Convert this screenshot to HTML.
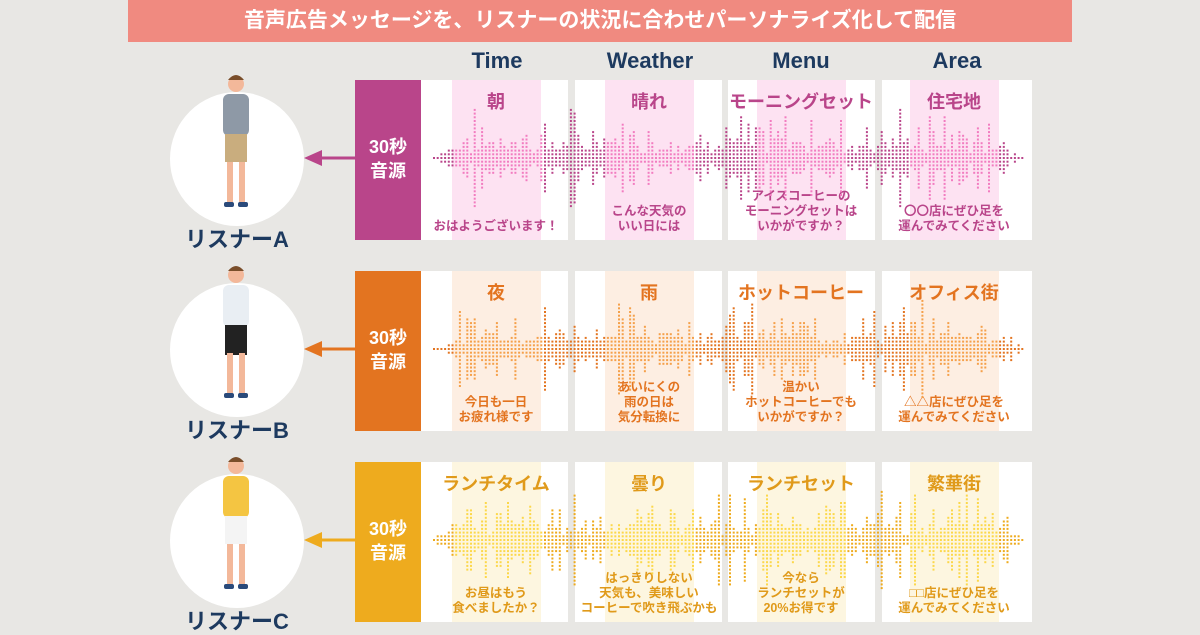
<!DOCTYPE html>
<html><head><meta charset="utf-8">
<style>
*{margin:0;padding:0;box-sizing:border-box}
body{width:1200px;height:630px;background:#e8e7e4;position:relative;overflow:hidden;font-family:"Liberation Sans","Noto Sans CJK JP",sans-serif;font-weight:bold}
.banner{position:absolute;left:128px;top:0;width:944px;height:42px;background:#f08a80;color:#fff;font-size:21px;text-align:center;line-height:42px}
.hd{position:absolute;top:48px;font-size:22px;color:#1d3a5f;text-align:center;width:150px}
.src{position:absolute;left:355px;width:66px;height:160px;color:#fff;font-size:18px;text-align:center;line-height:24px;padding-top:55px}
.pn{position:absolute;width:147px;height:160px;background:#fff}
.band{position:absolute;top:0;height:160px;width:89px}
.t{position:absolute;width:180px;text-align:center;font-size:18px}
.b{position:absolute;width:180px;text-align:center;font-size:12.5px;line-height:15px}
.circ{position:absolute;left:170px;width:134px;height:134px;border-radius:50%;background:#fff}
.lab{position:absolute;left:160px;width:154px;text-align:center;font-size:22px;line-height:26px;color:#1d3a5f}
svg{position:absolute;left:0;top:0}
</style></head><body>
<div class="banner">音声広告メッセージを、リスナーの状況に合わせパーソナライズ化して配信</div>
<div class="hd" style="left:422px">Time</div>
<div class="hd" style="left:575px">Weather</div>
<div class="hd" style="left:726px">Menu</div>
<div class="hd" style="left:882px">Area</div>
<div id="rows"></div>
<svg id="sv" width="1200" height="630"></svg>
<div id="labs"></div>
<script>
var rows=[
{top:80,c:'#b9458a',band:'#fde2f2',dl:'#f27cc0',tc:'#b9458a',name:'リスナーA',
 t:['朝','晴れ','モーニングセット','住宅地'],
 b:[['おはようございます！'],['こんな天気の','いい日には'],['アイスコーヒーの','モーニングセットは','いかがですか？'],['〇〇店にぜひ足を','運んでみてください']]},
{top:271,c:'#e37420',band:'#fdeee2',dl:'#f5a04a',tc:'#e37420',name:'リスナーB',
 t:['夜','雨','ホットコーヒー','オフィス街'],
 b:[['今日も一日','お疲れ様です'],['あいにくの','雨の日は','気分転換に'],['温かい','ホットコーヒーでも','いかがですか？'],['△△店にぜひ足を','運んでみてください']]},
{top:462,c:'#eeab1e',band:'#fdf6e0',dl:'#fcd84a',tc:'#e09a1a',name:'リスナーC',
 t:['ランチタイム','曇り','ランチセット','繁華街'],
 b:[['お昼はもう','食べましたか？'],['はっきりしない','天気も、美味しい','コーヒーで吹き飛ぶかも'],['今なら','ランチセットが','20%お得です'],['□□店にぜひ足を','運んでみてください']]}
];
var px=[421,575,728,882],bx=[452,605,757,910];
var h='',svg='',lb='';
var seed=7;function rnd(){seed=(seed*9301+49297)%233280;return seed/233280;}
rows.forEach(function(r,ri){
 var T=r.top;
 h+='<div class="circ" style="top:'+(T+12)+'px"></div>';
 lb+='<div class="lab" style="top:'+(T+147)+'px">'+r.name+'</div>';
 h+='<div class="src" style="top:'+T+'px;background:'+r.c+'">30秒<br>音源</div>';
 for(var i=0;i<4;i++){
  var w=i==3?150:147;
  h+='<div class="pn" style="left:'+px[i]+'px;top:'+T+'px;width:'+w+'px"><div class="band" style="left:'+(bx[i]-px[i])+'px;background:'+r.band+'"></div></div>';
  var cx=bx[i]+44;
  h+='<div class="t" style="left:'+(cx-90)+'px;top:'+(T+8)+'px;color:'+r.tc+'">'+r.t[i]+'</div>';
  var L=r.b[i];var by=T+154-L.length*15;
  h+='<div class="b" style="left:'+(cx-90)+'px;top:'+by+'px;color:'+r.tc+'">'+L.join('<br>')+'</div>';
 }
 var ay=T+78;
 svg+='<line x1="355" y1="'+ay+'" x2="318" y2="'+ay+'" stroke="'+r.c+'" stroke-width="3"/>';
 svg+='<polygon points="304,'+ay+' 322,'+(ay-8)+' 322,'+(ay+8)+'" fill="'+r.c+'"/>';
 var wv='';
 for(var x=433;x<1022;x+=3.7){
  var env=Math.min(1,(x-433)/30,(1022-x)/30);
  var q=rnd();
  var a=q<0.5?Math.round(1+rnd()*3):(q<0.85?Math.round(3+rnd()*5):Math.round(7+rnd()*6));
  a=Math.round(a*env);
  var inb=false;for(var k=0;k<4;k++){if(x>=bx[k]&&x<=bx[k]+89)inb=true;}
  var col=inb?r.dl:r.c;
  for(var j=-a;j<=a;j++){
   wv+='<rect x="'+x.toFixed(1)+'" y="'+(ay+j*3.7-1).toFixed(1)+'" width="2" height="2" fill="'+col+'"/>';
  }
 }
 svg+=wv;
 var pc=236,pt=T-8;
 var shirt=['#8e99a6','#e9eef3','#f4c542'][ri],leg=['#c9ad7e','#222','#f4f4f4'][ri];
 svg+='<circle cx="'+pc+'" cy="'+(pt+12)+'" r="8" fill="#f3b89a"/>';
 svg+='<path d="M'+(pc-8)+' '+(pt+8)+' q8 -10 16 0" fill="#7a4e2a"/>';
 svg+='<rect x="'+(pc-13)+'" y="'+(pt+22)+'" width="26" height="42" rx="6" fill="'+shirt+'"/>';
 svg+='<rect x="'+(pc-11)+'" y="'+(pt+62)+'" width="22" height="'+(ri==1?30:28)+'" fill="'+leg+'"/>';
 svg+='<rect x="'+(pc-9)+'" y="'+(pt+90)+'" width="6" height="42" fill="#f3b89a"/>';
 svg+='<rect x="'+(pc+3)+'" y="'+(pt+90)+'" width="6" height="42" fill="#f3b89a"/>';
 svg+='<rect x="'+(pc-12)+'" y="'+(pt+130)+'" width="10" height="5" rx="2" fill="#2a4a7a"/>';
 svg+='<rect x="'+(pc+2)+'" y="'+(pt+130)+'" width="10" height="5" rx="2" fill="#2a4a7a"/>';
});
document.getElementById('rows').innerHTML=h;
document.getElementById('sv').innerHTML=svg;
document.getElementById('labs').innerHTML=lb;
</script>
</body></html>
